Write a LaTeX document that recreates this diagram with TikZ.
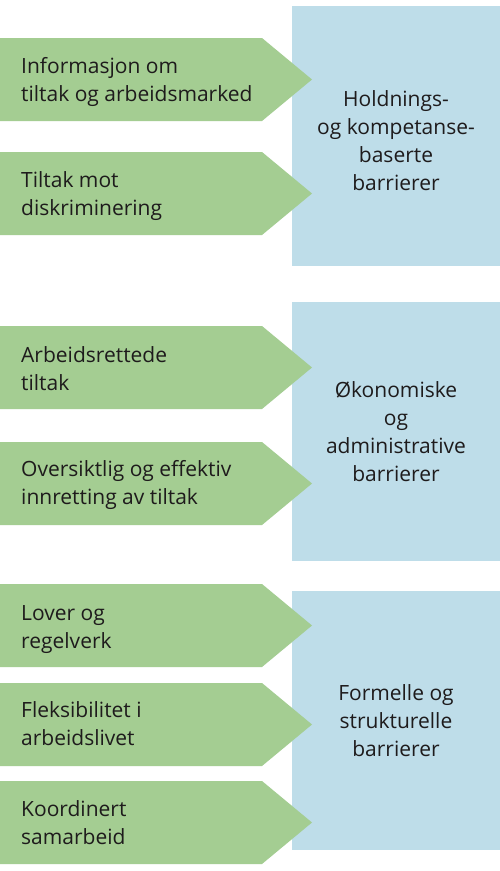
\documentclass[tikz,border=0pt]{standalone}
\usepackage{fontspec}
\setmainfont{Open Sans}
\definecolor{arrowgreen}{RGB}{164,205,146}
\definecolor{boxblue}{RGB}{190,221,233}
\definecolor{ink}{RGB}{30,27,28}
\newcommand{\txtfont}{\fontsize{21}{28}\selectfont}
\begin{document}
\begin{tikzpicture}[x=1pt,y=-1pt,
  barrier/.style={fill=boxblue, draw=none, inner sep=0pt, anchor=north west, minimum width=208pt},
  arrowshape/.style={fill=arrowgreen},
  lefttext/.style={anchor=base west, inner sep=0pt, text=ink, font=\txtfont},
  centertext/.style={anchor=base, inner sep=0pt, text=ink, font=\txtfont}]
\useasboundingbox (0,0) rectangle (500,871);
\fill[white] (0,0) rectangle (500,871);
% blue barrier boxes
\node[barrier, minimum height=260pt] (b1) at (292,6) {};
\node[barrier, minimum height=259pt] (b2) at (292,302) {};
\node[barrier, minimum height=259pt] (b3) at (292,591) {};
% green arrows
\foreach \t/\b in {38/121, 152/235, 326/409, 442/525, 584/667, 683/766, 781/864}{
  \fill[arrowshape] (0,\t) -- (262,\t) -- (312,{(\t+\b)/2}) -- (262,\b) -- (0,\b) -- cycle;
}
% arrow texts
\node[lefttext] (a1) at (21,73) {\begin{tabular}[t]{@{}l@{}}Informasjon om\\tiltak og arbeidsmarked\end{tabular}};
\node[lefttext] (a2) at (21,187.5) {\begin{tabular}[t]{@{}l@{}}Tiltak mot\\diskriminering\end{tabular}};
\node[lefttext] (a3) at (21,362) {\begin{tabular}[t]{@{}l@{}}Arbeidsrettede\\tiltak\end{tabular}};
\node[lefttext] (a4) at (21,476) {\begin{tabular}[t]{@{}l@{}}Oversiktlig og effektiv\\innretting av tiltak\end{tabular}};
\node[lefttext] (a5) at (21,620) {\begin{tabular}[t]{@{}l@{}}Lover og\\regelverk\end{tabular}};
\node[lefttext] (a6) at (21,717.5) {\begin{tabular}[t]{@{}l@{}}Fleksibilitet i\\arbeidslivet\end{tabular}};
\node[lefttext] (a7) at (21,816) {\begin{tabular}[t]{@{}l@{}}Koordinert\\samarbeid\end{tabular}};
% barrier texts
\node[centertext] (c1) at (396,106) {\begin{tabular}[t]{@{}c@{}}Holdnings-\\og kompetanse-\\baserte\\barrierer\end{tabular}};
\node[centertext] (c2) at (396,397) {\begin{tabular}[t]{@{}c@{}}Økonomiske\\og\\administrative\\barrierer\end{tabular}};
\node[centertext] (c3) at (396,700) {\begin{tabular}[t]{@{}c@{}}Formelle og\\strukturelle\\barrierer\end{tabular}};
\end{tikzpicture}
\end{document}
